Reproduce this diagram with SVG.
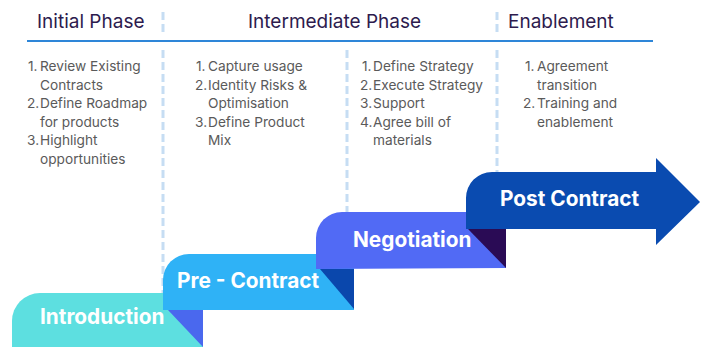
<svg xmlns="http://www.w3.org/2000/svg" width="708" height="347" viewBox="0 0 708 347">
<style>
.hd{font-family:Inter,"Liberation Sans",sans-serif;font-size:19px;fill:#2d1b4e}
.li{font-family:Inter,"Liberation Sans",sans-serif;font-size:13.7px;fill:#5a5a5a}
.lb{font-family:Inter,"Liberation Sans",sans-serif;font-size:20.8px;font-weight:700;fill:#ffffff}
.sep{stroke:#c6ddf3;stroke-width:3;stroke-dasharray:8 4;fill:none}
</style>
<rect width="708" height="347" fill="#ffffff"/>
<g id="separators">
<line class="sep" x1="163" y1="12" x2="163" y2="34"/>
<line class="sep" x1="497" y1="12" x2="497" y2="34"/>
<line class="sep" x1="163" y1="50" x2="163" y2="300"/>
<line class="sep" x1="347" y1="50" x2="347" y2="230"/>
<line class="sep" x1="497" y1="50" x2="497" y2="190"/>
</g>
<g id="header">
<line x1="27" y1="41" x2="653" y2="41" stroke="#2e86d8" stroke-width="2"/>
<text class="hd" x="37" y="28">Initial Phase</text>
<text class="hd" x="248" y="28">Intermediate Phase</text>
<text class="hd" x="508" y="28">Enablement</text>
</g>
<g id="list-initial" class="li">
<text x="28" y="71">1.</text><text x="40" y="71">Review Existing</text>
<text x="40" y="89.5">Contracts</text>
<text x="27" y="108">2.</text><text x="40" y="108">Define Roadmap</text>
<text x="40" y="126.5">for products</text>
<text x="27" y="145">3.</text><text x="40" y="145">Highlight</text>
<text x="40" y="163.5">opportunities</text>
</g>
<g id="list-intermediate-1" class="li">
<text x="196" y="71">1.</text><text x="208" y="71">Capture usage</text>
<text x="195" y="89.5">2.</text><text x="208" y="89.5">Identity Risks &amp;</text>
<text x="208" y="108">Optimisation</text>
<text x="195" y="126.5">3.</text><text x="208" y="126.5">Define Product</text>
<text x="208" y="145">Mix</text>
</g>
<g id="list-intermediate-2" class="li">
<text x="362" y="71">1.</text><text x="373" y="71">Define Strategy</text>
<text x="360" y="89.5">2.</text><text x="373" y="89.5">Execute Strategy</text>
<text x="360" y="108">3.</text><text x="373" y="108">Support</text>
<text x="360" y="126.5">4.</text><text x="373" y="126.5">Agree bill of</text>
<text x="373" y="145">materials</text>
</g>
<g id="list-enablement" class="li">
<text x="525" y="71">1.</text><text x="537" y="71">Agreement</text>
<text x="537" y="89.5">transition</text>
<text x="523" y="108">2.</text><text x="537" y="108">Training and</text>
<text x="537" y="126.5">enablement</text>
</g>
<g id="introduction">
<path d="M12,347 V321 A28,28 0 0 1 40,293 H203 V347 Z" fill="#5ddfe0"/>
<polygon points="168,310 203,310 203,347" fill="#4a68ee"/>
<text class="lb" x="40" y="324">Introduction</text>
</g>
<g id="pre-contract">
<path d="M163,310 V280 A26,26 0 0 1 189,254 H354 V310 Z" fill="#2fb2f6"/>
<polygon points="320,269 354,269 354,309" fill="#0a47ac"/>
<text class="lb" x="177" y="288">Pre - Contract</text>
</g>
<g id="negotiation">
<path d="M316,269 V238 A26,26 0 0 1 342,212 H506 V268 Z" fill="#516af5"/>
<polygon points="468,229 506,229 506,268" fill="#2a0b55"/>
<text class="lb" x="353" y="247">Negotiation</text>
</g>
<g id="post-contract">
<path d="M466,229 V198 A26,26 0 0 1 492,172 H656 V158 L700,202 L656,245 V229 Z" fill="#0a4bb0"/>
<text class="lb" x="500" y="206">Post Contract</text>
</g>
<g id="connectors"/>
</svg>
